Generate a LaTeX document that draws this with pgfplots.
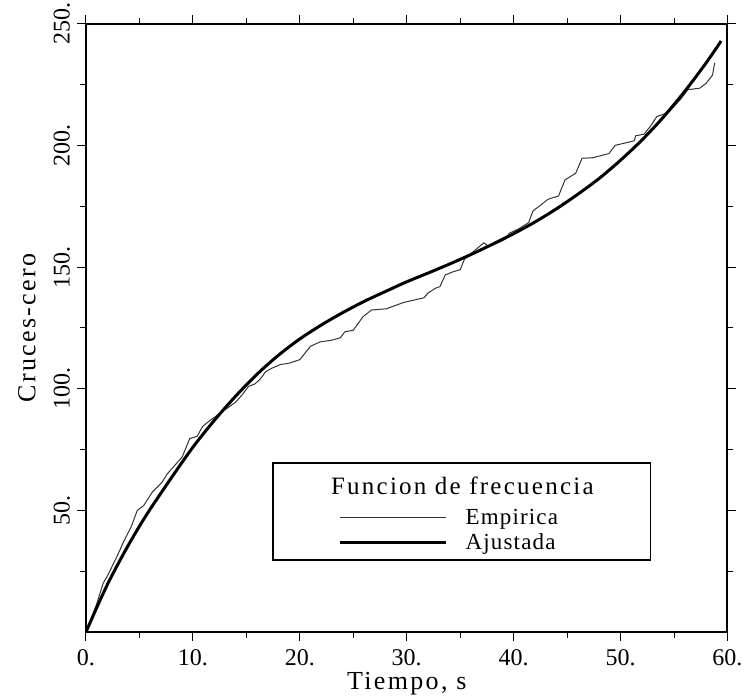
\documentclass[border=0pt]{standalone}
\usepackage{fontspec}
\setmainfont{Liberation Serif}
\newfontfamily\spacedfont[LetterSpace=9]{Liberation Serif}
\newfontfamily\labfont[LetterSpace=9]{Liberation Serif}
\newfontfamily\legfont[LetterSpace=5]{Liberation Serif}
\usepackage{pgfplots}
\pgfplotsset{compat=1.18}

\begin{document}
\begin{tikzpicture}
\begin{axis}[
    scale only axis,
    width=320.75pt,
    height=304pt,
    xmin=0, xmax=60,
    ymin=0, ymax=250,
    xtick={0,10,20,30,40,50,60},
    xticklabels={0.,10.,20.,30.,40.,50.,60.},
    minor xtick={5,15,25,35,45,55},
    ytick={50,100,150,200,250},
    yticklabels={50.,100.,150.,200.,250.},
    minor ytick={25,75,125,175,225},
    tick align=outside,
    major tick length=4.5pt,
    minor tick length=3pt,
    tick style={black, line width=0.5pt},
    axis line style={line width=1pt},
    tick label style={font=\fontsize{12}{14}\selectfont},
    xticklabel style={yshift=-0.5pt},
    yticklabel style={rotate=90, anchor=south},
    xlabel={\labfont\fontsize{13}{15}\selectfont Tiempo, s},
    ylabel={\labfont\fontsize{13}{15}\selectfont Cruces-cero},
    xlabel style={at={(axis description cs:0.5,0)}, anchor=center, yshift=-26pt},
    ylabel style={at={([xshift=-29.5pt]axis description cs:0,0.5)}, anchor=center},
    legend style={at={(axis cs:23.6,41.75)}, anchor=west, draw=none, fill=none,
        font=\legfont\fontsize{11.5}{13}\selectfont, row sep=-1pt,
        inner sep=0pt, cells={anchor=west}},
    legend image code/.code={\draw[#1] (0pt,0pt) -- (53pt,0pt); \path (60pt,0pt);},
]
% empirica (cruces-cero acumulados)
\addplot[color=black!80, line width=0.5pt] coordinates {
    (0,0) (0.5,5.5) (1.0,11.5) (1.6,20) (2.0,23) (2.5,27.5) (3.0,32) (3.5,37)
    (4.2,43) (4.8,50) (5.4,52) (6.2,57.5) (7.1,61.5) (7.6,65) (8.4,69) (9.0,72)
    (9.7,79.5) (10.4,80.5) (10.9,84.5) (11.6,87) (12.4,89.5) (13.2,92) (14.0,94.5)
    (14.6,97.5) (15.2,101) (15.8,102) (16.3,104) (16.8,107) (17.4,108.5) (18.2,110)
    (19.0,110.5) (20.0,112) (21.0,117.5) (21.9,119.3) (23.0,120) (23.8,121)
    (24.2,123.4) (25.0,124.1) (25.9,129.6) (26.7,132.4) (28.1,132.9) (29.7,135.5)
    (31.6,137.4) (32.0,139.4) (32.7,141.4) (33.1,142) (33.6,146.8) (34.2,147.9)
    (35.0,149) (35.4,153.3) (36.5,157.4) (37.2,160) (37.6,158.8) (38.5,160)
    (39.2,161.5) (39.6,164) (40.4,165.6) (41.4,168.3) (41.8,173.1) (42.6,175.8)
    (43.2,177.9) (44.2,179.3) (44.8,185.9) (45.8,188.6) (46.4,194.8) (47.4,195)
    (48.9,196.7) (49.5,200.1) (51.3,202) (51.4,204) (52.2,204.7) (52.8,208)
    (53.4,212) (54.1,213) (54.9,215.7) (55.6,219) (56.3,223) (57.4,223.6)
    (58.0,225.6) (58.6,229) (58.8,234)
};
\addlegendentry{Empirica}
% ajustada
\addplot[color=black, line width=1.5pt, smooth] coordinates {
    (0,0) (1,10) (2,19.5) (3,28) (4,36) (5,43.5) (6,50.5) (8,63.5) (10,76) (12,87)
    (14,97) (16,106) (18,113.8) (20,120.5) (22,126.2) (24,131.3) (26,135.9)
    (28,140) (30,144) (32,147.6) (34,151.3) (36,155.2) (38,159.4) (40,163.8)
    (42,168.6) (44,174) (46,180) (48,186.5) (50,194) (52,202.3) (54,211.7)
    (56,222.3) (58,234) (59.4,243)
};
\addlegendentry{Ajustada}

\draw[line width=0.8pt] (axis cs:17.5,29.6) rectangle (axis cs:52.8,69.5);
\node[font=\spacedfont\fontsize{12.5}{14}\selectfont] at (axis cs:35.2,60.3) {Funcion de frecuencia};
\end{axis}
\pgfresetboundingbox
\path[use as bounding box] ([xshift=-43pt,yshift=-34pt]current axis.south west)
    rectangle ([xshift=332pt,yshift=316pt]current axis.south west);
\end{tikzpicture}
\end{document}
